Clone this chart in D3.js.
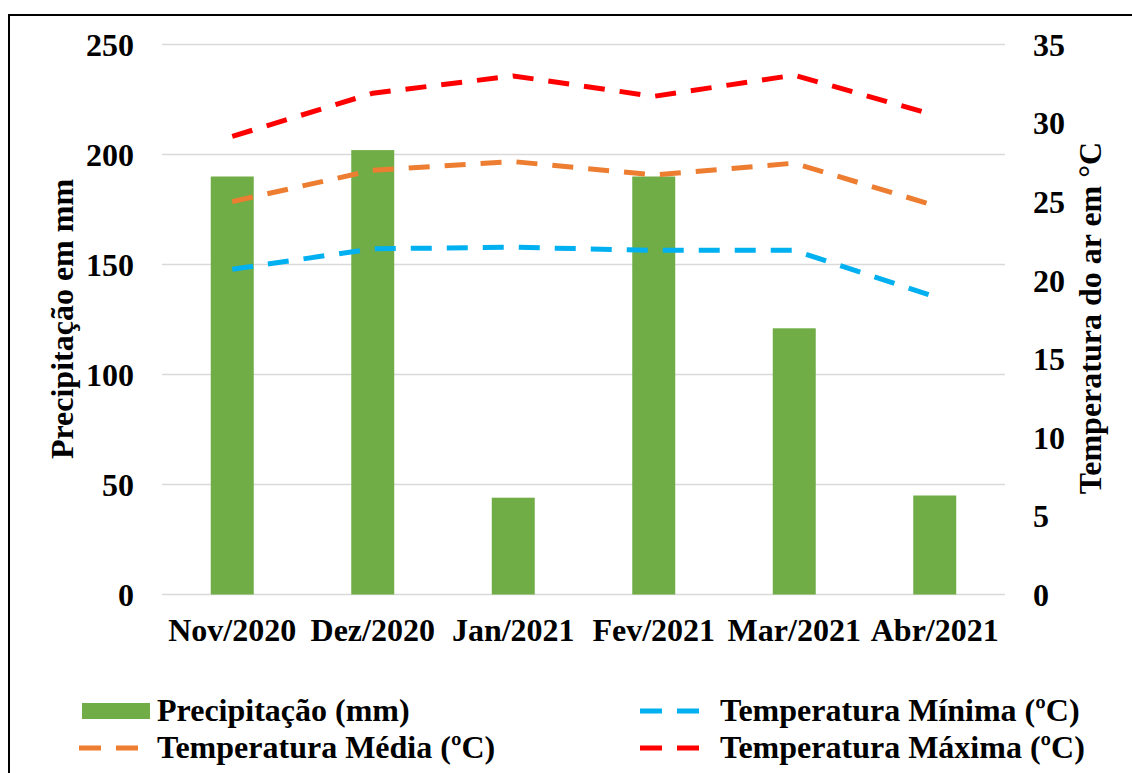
<!DOCTYPE html>
<html><head><meta charset="utf-8">
<script src="https://cdn.jsdelivr.net/npm/d3@7"></script>
<style>body{margin:0;background:#fff}svg{display:block}text{font-family:"Liberation Serif","Times New Roman",serif;font-weight:bold;fill:#000}</style>
</head><body>
<script>
const categories = ["Nov/2020","Dez/2020","Jan/2021","Fev/2021","Mar/2021","Abr/2021"];
const precipitacao = [190, 202, 44, 190, 121, 45];
const tempMinima = [20.7, 22.0, 22.1, 21.9, 21.9, 18.95];
const tempMedia = [25.0, 27.0, 27.55, 26.7, 27.45, 24.75];
const tempMaxima = [29.15, 31.9, 33.0, 31.7, 33.05, 30.5];
const leftTicks = [0, 50, 100, 150, 200, 250];
const rightTicks = [0, 5, 10, 15, 20, 25, 30, 35];
const seriesNames = ["Precipitação (mm)", "Temperatura Média (ºC)", "Temperatura Mínima (ºC)", "Temperatura Máxima (ºC)"];

const W = 1132, H = 773, FS = 32;
const svg = d3.select("body").append("svg").attr("width", W).attr("height", H);
svg.append("rect").attr("width", W).attr("height", H).attr("fill", "#fff");
svg.append("rect").attr("x", 9).attr("y", 15).attr("width", 1200).attr("height", 800)
  .attr("fill", "none").attr("stroke", "#000").attr("stroke-width", 2);

const L = 162, R = 1005, T = 44.5, B = 594.5;
const x = d3.scaleBand().domain(categories).range([L, R]).paddingInner(0.694).paddingOuter(0.347);
const yL = d3.scaleLinear().domain([0, 250]).range([B, T]);
const yR = d3.scaleLinear().domain([0, 35]).range([B, T]);
const cx = c => x(c) + x.bandwidth() / 2;

// gridlines
svg.append("g").selectAll("line").data(leftTicks).join("line")
  .attr("x1", L).attr("x2", R).attr("y1", d => yL(d)).attr("y2", d => yL(d))
  .attr("stroke", "#d9d9d9").attr("stroke-width", 1.5);

function styleText(sel) {
  sel.attr("font-size", FS).attr("fill", "#000")
    .style("font-family", '"Liberation Serif",serif').style("font-weight", "bold");
}
// left axis labels
const axL = d3.axisLeft(yL).tickValues(leftTicks).tickSize(0).tickPadding(0);
svg.append("g").attr("transform", `translate(134,0)`).call(axL)
  .call(g => g.select(".domain").remove())
  .selectAll("text").attr("dy", "0.34em").call(styleText);
const axR = d3.axisRight(yR).tickValues(rightTicks).tickSize(0).tickPadding(0);
svg.append("g").attr("transform", `translate(1033,0)`).call(axR)
  .call(g => g.select(".domain").remove())
  .selectAll("text").attr("dy", "0.34em").call(styleText);

// bars
svg.append("g").selectAll("rect").data(categories).join("rect")
  .attr("x", d => x(d)).attr("width", x.bandwidth())
  .attr("y", (d, i) => yL(precipitacao[i])).attr("height", (d, i) => B - yL(precipitacao[i]))
  .attr("fill", "#70ad47");

// category labels
const axB = d3.axisBottom(x).tickSize(0).tickPadding(0);
svg.append("g").attr("transform", `translate(0,641)`).call(axB)
  .call(g => g.select(".domain").remove())
  .selectAll("text").attr("dy", 0).attr("y", 0).call(styleText);

// lines
const line = d3.line().x((d, i) => cx(categories[i])).y(d => yR(d));
const dash = "21,15";
[[tempMinima, "#00b0f0"], [tempMedia, "#ed7d31"], [tempMaxima, "#ff0000"]].forEach(([data, col]) => {
  svg.append("path").datum(data).attr("d", line).attr("fill", "none")
    .attr("stroke", col).attr("stroke-width", 5).attr("stroke-dasharray", dash);
});

// axis titles
svg.append("text").attr("transform", "translate(72.5,319) rotate(-90)").attr("text-anchor", "middle")
  .attr("font-size", FS).text("Precipitação em mm");
svg.append("text").attr("transform", "translate(1101,318) rotate(-90)").attr("text-anchor", "middle")
  .attr("font-size", FS).text("Temperatura do ar em °C");

// legend
const lg = svg.append("g");
lg.append("rect").attr("x", 82).attr("y", 703).attr("width", 68).attr("height", 16).attr("fill", "#70ad47");
lg.append("text").attr("x", 157).attr("y", 721).attr("font-size", FS).text(seriesNames[0]);
lg.append("line").attr("x1", 79).attr("x2", 138).attr("y1", 748).attr("y2", 748)
  .attr("stroke", "#ed7d31").attr("stroke-width", 5).attr("stroke-dasharray", "22,15");
lg.append("text").attr("x", 157).attr("y", 758).attr("font-size", FS).text(seriesNames[1]);
lg.append("line").attr("x1", 640).attr("x2", 699).attr("y1", 711).attr("y2", 711)
  .attr("stroke", "#00b0f0").attr("stroke-width", 5).attr("stroke-dasharray", "22,15");
lg.append("text").attr("x", 720).attr("y", 721).attr("font-size", FS).text(seriesNames[2]);
lg.append("line").attr("x1", 640).attr("x2", 699).attr("y1", 748).attr("y2", 748)
  .attr("stroke", "#ff0000").attr("stroke-width", 5).attr("stroke-dasharray", "22,15");
lg.append("text").attr("x", 720).attr("y", 758).attr("font-size", FS).text(seriesNames[3]);
</script>
</body></html>
